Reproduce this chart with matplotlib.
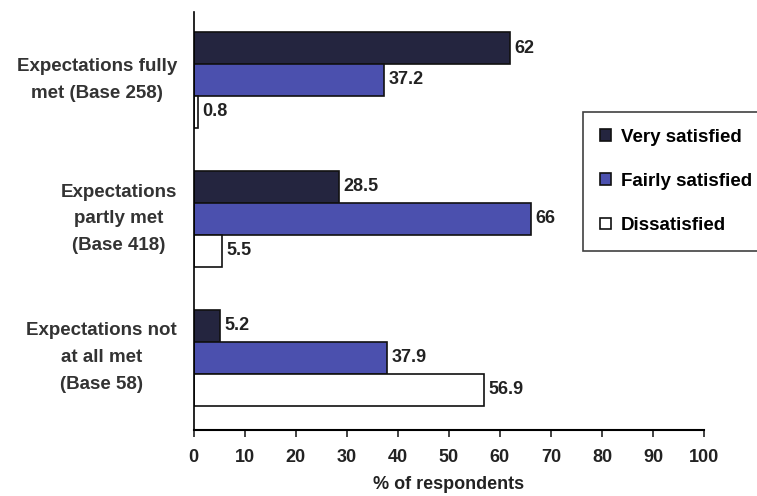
import matplotlib
matplotlib.use("Agg")
import matplotlib.pyplot as plt
import matplotlib.transforms as mtransforms
import numpy as np

plt.rcParams["font.family"] = ["Liberation Sans", "DejaVu Sans"]
plt.rcParams["font.weight"] = "bold"

categories = ["Expectations fully\nmet (Base 258)",
              "Expectations\npartly met\n(Base 418)",
              "Expectations not\nat all met\n(Base 58)"]
series = ["Very satisfied", "Fairly satisfied", "Dissatisfied"]
very_satisfied = [62, 28.5, 5.2]
fairly_satisfied = [37.2, 66, 37.9]
dissatisfied = [0.8, 5.5, 56.9]
value_labels = [["62", "28.5", "5.2"], ["37.2", "66", "37.9"], ["0.8", "5.5", "56.9"]]

colors = ["#24253f", "#4b50ae", "#ffffff"]

fig = plt.figure(figsize=(7.57, 4.96), dpi=100)
ax = fig.add_axes([0.256, 0.133, 0.674, 0.843])

y = np.arange(len(categories))
h = 0.23
for i, vals in enumerate([very_satisfied, fairly_satisfied, dissatisfied]):
    pos = y + (i - 1) * h
    ax.barh(pos, vals, height=h, color=colors[i], edgecolor="#111111",
            linewidth=1.2, label=series[i])
    for p, v, lab in zip(pos, vals, value_labels[i]):
        ax.text(v + 0.9, p, lab, va="center", ha="left", fontsize=13,
                fontweight="bold", color="#222222")

ax.set_ylim(2.52, -0.49)
ax.set_xlim(0, 100)
ax.set_xticks(range(0, 101, 10))
ax.set_yticks(y)
ax.set_yticklabels(categories, fontsize=13.5, fontweight="bold", color="#333333",
                   multialignment="center", linespacing=1.75)
ax.tick_params(axis="y", length=0, pad=12)
# labels sit a little above the group centre in the original
shift = mtransforms.ScaledTranslation(0, 7 / 100, fig.dpi_scale_trans)
for lab in ax.get_yticklabels():
    lab.set_transform(lab.get_transform() + shift)
ax.tick_params(axis="x", length=5, width=1.2, labelsize=13, pad=9,
               colors="#222222")
for lab in ax.get_xticklabels():
    lab.set_fontweight("bold")
ax.spines["top"].set_visible(False)
ax.spines["right"].set_visible(False)
ax.spines["left"].set_linewidth(1.2)
ax.spines["bottom"].set_linewidth(1.5)
ax.set_xlabel("% of respondents", fontsize=13, fontweight="bold", labelpad=7,
              color="#222222")

leg = ax.legend(loc="upper left", bbox_to_anchor=(0.763, 0.761), fontsize=13.5,
                frameon=True, fancybox=False, handlelength=0.6, handleheight=0.6,
                handletextpad=0.5, labelspacing=1.45, borderpad=0.9,
                borderaxespad=0)
leg.get_frame().set_edgecolor("#111111")
leg.get_frame().set_linewidth(1.2)

fig.savefig("out.png", dpi=100)
